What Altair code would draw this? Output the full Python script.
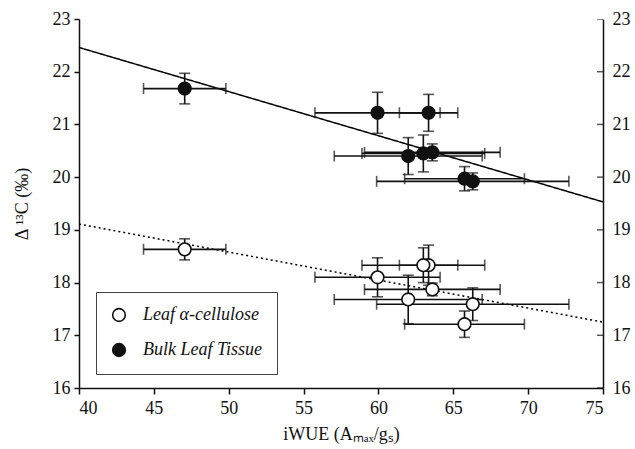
import altair as alt
import pandas as pd

groups = ["Leaf α-cellulose", "Bulk Leaf Tissue"]

# per-plant iWUE (same for both tissues) and its error
iwue = [47.06, 59.94, 63.35, 61.99, 63.00, 63.60, 65.75, 66.30]
iwue_err = [2.75, 4.18, 1.95, 4.94, 4.10, 4.53, 4.00, 6.42]

bulk_d13c = [21.68, 21.22, 21.22, 20.40, 20.45, 20.47, 19.97, 19.92]
bulk_err = [0.29, 0.39, 0.35, 0.35, 0.35, 0.16, 0.23, 0.16]

leaf_d13c = [18.63, 18.10, 18.33, 17.68, 18.33, 17.87, 17.21, 17.59]
leaf_err = [0.20, 0.37, 0.38, 0.46, 0.33, 0.12, 0.25, 0.31]

# regression lines (end points)
line_names = ["bulk fit", "leaf fit"]
line_x = [40, 75]
bulk_line = [22.46, 19.53]
leaf_line = [19.11, 17.25]

x_ticks = [40, 45, 50, 55, 60, 65, 70, 75]
y_ticks = [16, 17, 18, 19, 20, 21, 22, 23]

rows = []
for i in range(len(iwue)):
    rows.append(dict(group=groups[0], x=iwue[i], xe=iwue_err[i], y=leaf_d13c[i], ye=leaf_err[i]))
for i in range(len(iwue)):
    rows.append(dict(group=groups[1], x=iwue[i], xe=iwue_err[i], y=bulk_d13c[i], ye=bulk_err[i]))
df = pd.DataFrame(rows)

lines = pd.DataFrame(
    [dict(fit=line_names[0], x=line_x[i], y=bulk_line[i]) for i in range(2)]
    + [dict(fit=line_names[1], x=line_x[i], y=leaf_line[i]) for i in range(2)]
)
rticks = pd.DataFrame({"v": y_ticks, "x": [x_ticks[-1]] * len(y_ticks)})

FONT = "'Liberation Serif', 'Times New Roman', Times, serif"
INK = "#111"
TXT = "#111"
x_scale = alt.Scale(domain=[40, 75], nice=False, zero=False)
y_scale = alt.Scale(domain=[16, 23], nice=False, zero=False)

common = dict(grid=False, labelFont=FONT, titleFont=FONT, labelFontSize=18, titleFontSize=18,
              labelColor=TXT, titleColor=TXT, titleFontWeight="normal",
              domainColor=INK, tickColor=INK, domainWidth=1.5, tickWidth=1.5)

x_axis = alt.Axis(values=x_ticks, title="iWUE (Aₘₐₓ/gₛ)", tickSize=6,
                  labelPadding=5, titlePadding=8, **common)
y_axis = alt.Axis(values=y_ticks, title="Δ ¹³C (‰)", tickSize=5,
                  labelPadding=4, titlePadding=21, **common)


def X(f):
    return alt.X(f, type="quantitative", scale=x_scale, axis=x_axis)


def Y(f):
    return alt.Y(f, type="quantitative", scale=y_scale, axis=y_axis)


base = alt.Chart(df).transform_calculate(
    xlo="datum.x - datum.xe", xhi="datum.x + datum.xe",
    ylo="datum.y - datum.ye", yhi="datum.y + datum.ye",
)

reg = alt.Chart(lines).mark_line(color="black", strokeWidth=1.5, clip=True).encode(
    x=X("x"), y=Y("y"),
    strokeDash=alt.StrokeDash("fit:N", scale=alt.Scale(domain=line_names, range=[[1, 0], [2, 3]]), legend=None),
)

hbar = base.mark_rule(color=INK, strokeWidth=1.6).encode(x=X("xlo:Q"), x2="xhi:Q", y=Y("y"))
vbar = base.mark_rule(color=INK, strokeWidth=1.6).encode(x=X("x"), y=Y("ylo:Q"), y2="yhi:Q")
cap_l = base.mark_tick(orient="vertical", size=11, thickness=1.6, color=INK).encode(x=X("xlo:Q"), y=Y("y"))
cap_r = base.mark_tick(orient="vertical", size=11, thickness=1.6, color=INK).encode(x=X("xhi:Q"), y=Y("y"))
cap_b = base.mark_tick(orient="horizontal", size=11, thickness=1.6, color=INK).encode(x=X("x"), y=Y("ylo:Q"))
cap_t = base.mark_tick(orient="horizontal", size=11, thickness=1.6, color=INK).encode(x=X("x"), y=Y("yhi:Q"))

pts = base.mark_point(shape="circle", size=160, filled=False, stroke=INK, strokeWidth=1.6, opacity=1).encode(
    x=X("x"), y=Y("y"),
    fill=alt.Fill("group:N", scale=alt.Scale(domain=groups, range=["white", INK]),
                  legend=alt.Legend(title=None, orient="none", legendX=17, legendY=273,
                                    strokeColor="#444", fillColor="white", padding=14,
                                    rowPadding=15, symbolSize=160, symbolStrokeColor=INK,
                                    symbolStrokeWidth=1.6, symbolType="circle",
                                    labelFont=FONT, labelFontSize=18, labelOffset=15,
                                    labelColor=TXT, symbolOffset=0, labelFontStyle="italic")),
)

main = alt.layer(reg, hbar, vbar, cap_l, cap_r, cap_b, cap_t, pts)

right = alt.Chart(rticks).mark_tick(orient="horizontal", size=12, thickness=1.5, color=INK, clip=True).encode(
    x=X("x:Q"),
    y=alt.Y("v:Q", scale=y_scale,
            axis=alt.Axis(orient="right", values=y_ticks, ticks=False, title=None,
                          labelPadding=9, **common)),
)

chart = alt.layer(main, right).resolve_scale(y="independent").properties(
    width=524, height=369,
    autosize=alt.AutoSizeParams(type="none"),
    padding={"left": 79, "top": 19, "right": 32, "bottom": 61},
    background="white",
).configure_view(stroke=None)

chart.save("out.html", embed_options={"renderer": "svg", "actions": False})
